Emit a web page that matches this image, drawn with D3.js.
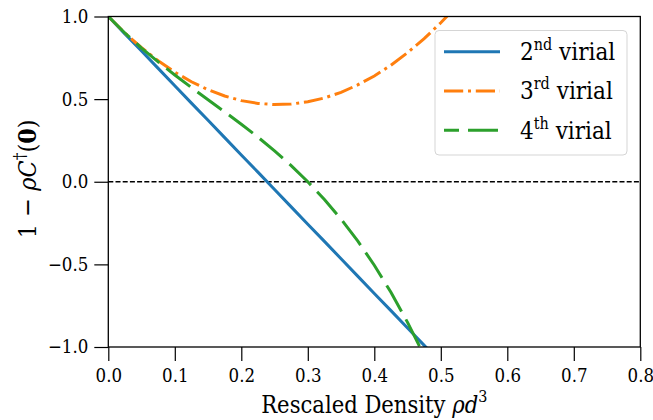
<!DOCTYPE html>
<html>
<head>
<meta charset="utf-8">
<script src="https://cdn.jsdelivr.net/npm/d3@7"></script>
<style>
    body { margin: 0; background: #fff; }
</style>
</head>
<body>
<div class="chartRoot"></div>
<script>
(function () {
    'use strict';

    // values
    var density = [0, 0.025, 0.05, 0.075, 0.1, 0.125, 0.15, 0.175, 0.2, 0.225, 0.25,
        0.275, 0.3, 0.325, 0.35, 0.375, 0.4, 0.425, 0.45, 0.475, 0.5, 0.525];
    var virial2 = [1, 0.895, 0.791, 0.686, 0.581, 0.476, 0.372, 0.267, 0.162, 0.058, -0.047,
        -0.152, -0.257, -0.361, -0.466, -0.571, -0.676, -0.780, -0.885, -0.990, -1.094, -1.199];
    var virial3 = [1, 0.900, 0.811, 0.732, 0.663, 0.605, 0.557, 0.519, 0.491, 0.474, 0.467,
        0.470, 0.484, 0.507, 0.541, 0.586, 0.640, 0.705, 0.781, 0.866, 0.962, 1.068];
    var virial4 = [1, 0.900, 0.809, 0.725, 0.646, 0.570, 0.496, 0.423, 0.348, 0.270, 0.187,
        0.098, 0.000, -0.107, -0.226, -0.358, -0.505, -0.669, -0.851, -1.052];
    var xTicks = [0, 0.1, 0.2, 0.3, 0.4, 0.5, 0.6, 0.7, 0.8];
    var yTicks = [-1, -0.5, 0, 0.5, 1];
    var seriesNames = [["2", "nd"], ["3", "rd"], ["4", "th"]];
    var seriesColors = ["#1f77b4", "#ff7f0e", "#2ca02c"];

    var font = "'DejaVu Serif Condensed', 'DejaVu Serif'";

    var w = 653,
        h = 420,
        margin = { top: 16.5, right: 12.7, bottom: 73, left: 108.3 };
    var chartWidth = w - margin.left - margin.right;
    var chartHeight = h - margin.top - margin.bottom;

    var svg = d3.select("div.chartRoot").append("svg")
        .attr("width", w)
        .attr("height", h)
        .attr("font-family", font);

    var x = d3.scaleLinear().domain([0, 0.8]).range([0, chartWidth]);
    var y = d3.scaleLinear().domain([-1, 1]).range([chartHeight, 0]);

    var g = svg.append("g")
        .attr("transform", "translate(" + margin.left + "," + margin.top + ")");

    g.append("clipPath").attr("id", "plotClip")
        .append("rect")
        .attr("width", chartWidth)
        .attr("height", chartHeight);

    // zero reference line
    g.append("line")
        .attr("x1", x(0)).attr("x2", x(0.8))
        .attr("y1", y(0)).attr("y2", y(0))
        .style("stroke", "#000")
        .style("stroke-width", "1.3px")
        .style("stroke-dasharray", "5,2.2");

    var series = [
        { values: virial2, color: seriesColors[0], dash: null, offset: 0 },
        { values: virial3, color: seriesColors[1], dash: "19.2,4.8,3,4.8", offset: 0 },
        { values: virial4, color: seriesColors[2], dash: "30,9", offset: 15 }
    ];

    var line = d3.line()
        .x(function (d) { return x(d[0]); })
        .y(function (d) { return y(d[1]); });

    var plot = g.append("g").attr("clip-path", "url(#plotClip)");
    plot.selectAll("path.series")
        .data(series)
        .enter().append("path")
        .attr("class", "series")
        .attr("d", function (s) {
            return line(s.values.map(function (v, i) { return [density[i], v]; }));
        })
        .style("fill", "none")
        .style("stroke", function (s) { return s.color; })
        .style("stroke-width", "3px")
        .style("stroke-dasharray", function (s) { return s.dash; });

    // axes
    var xAxis = g.append("g")
        .attr("transform", "translate(0," + chartHeight + ")")
        .call(d3.axisBottom(x).tickValues(xTicks).tickFormat(d3.format(".1f"))
            .tickSize(14).tickPadding(8));
    var yAxis = g.append("g")
        .call(d3.axisLeft(y).tickValues(yTicks).tickFormat(d3.format(".1f"))
            .tickSize(14).tickPadding(6));

    [xAxis, yAxis].forEach(function (a) {
        a.attr("font-family", font).attr("font-size", 18.5);
        a.select(".domain").remove();
        a.selectAll("line").style("stroke", "#000").style("stroke-width", "1.2px");
        a.selectAll("text").style("fill", "#000");
    });

    g.append("rect")
        .attr("width", chartWidth)
        .attr("height", chartHeight)
        .style("fill", "none")
        .style("stroke", "#000")
        .style("stroke-width", "1.3px");

    // axis labels
    var xLabel = svg.append("text")
        .attr("x", margin.left + chartWidth / 2)
        .attr("y", 413)
        .attr("text-anchor", "middle")
        .attr("font-size", 23.5);
    xLabel.append("tspan").text("Rescaled Density ");
    xLabel.append("tspan").attr("font-style", "italic").text("ρd");
    xLabel.append("tspan").attr("dy", -11).attr("font-size", 16).text("3");

    var yLabel = svg.append("text")
        .attr("transform", "translate(36," + (margin.top + chartHeight / 2 - 3) + ") rotate(-90)")
        .attr("text-anchor", "middle")
        .attr("font-size", 25);
    yLabel.append("tspan").text("1 − ");
    yLabel.append("tspan").attr("font-style", "italic").text("ρC");
    yLabel.append("tspan").attr("dy", -11).attr("font-size", 17).text("†");
    yLabel.append("tspan").attr("dy", 11).text("(");
    yLabel.append("tspan").attr("font-weight", "bold").text("0");
    yLabel.append("tspan").text(")");

    // legend
    var legend = svg.append("g");
    legend.append("rect")
        .attr("x", 435).attr("y", 30.5)
        .attr("width", 192).attr("height", 124.5)
        .attr("rx", 4)
        .style("fill", "#fff")
        .style("fill-opacity", 0.8)
        .style("stroke", "#d5d5d5")
        .style("stroke-width", "1px");

    var item = legend.selectAll("g.item")
        .data(series)
        .enter().append("g")
        .attr("class", "item")
        .attr("transform", function (d, i) { return "translate(0," + (51.7 + i * 39.3) + ")"; });

    item.append("line")
        .attr("x1", 444).attr("x2", 500)
        .style("stroke", function (s) { return s.color; })
        .style("stroke-width", "3px")
        .style("stroke-dasharray", function (s) { return s.dash; })
        .style("stroke-dashoffset", function (s) { return s.offset; });

    var itemText = item.append("text")
        .attr("x", 520)
        .attr("y", 8.3)
        .attr("font-size", 24);
    itemText.append("tspan").text(function (d, i) { return seriesNames[i][0]; });
    itemText.append("tspan").attr("dy", -10).attr("font-size", 16)
        .text(function (d, i) { return seriesNames[i][1]; });
    itemText.append("tspan").attr("dy", 10).text(" virial");
})();
</script>
</body>
</html>
